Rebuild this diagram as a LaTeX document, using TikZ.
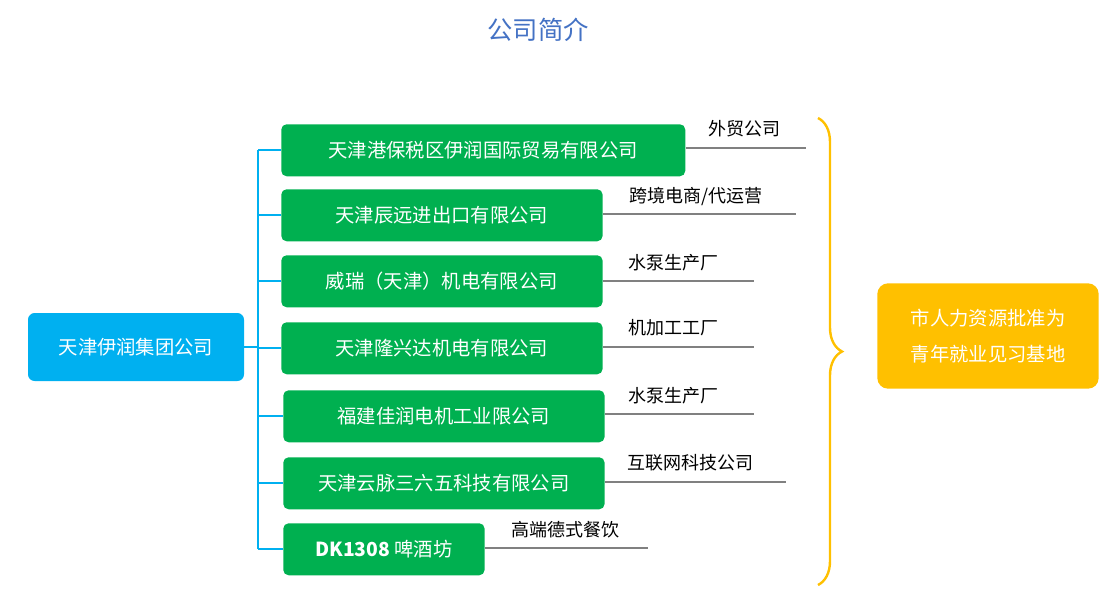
\documentclass[tikz,border=0pt]{standalone}
\usepackage{fontspec}
\setmainfont{Noto Sans CJK SC}
\usetikzlibrary{decorations.pathreplacing}
\definecolor{titleblue}{HTML}{4472C4}
\definecolor{cyanbox}{HTML}{00B0F0}
\definecolor{greenbox}{HTML}{00B050}
\definecolor{orangebox}{HTML}{FFC000}
\begin{document}
\begin{tikzpicture}[x=0.75pt,y=-0.75pt]
	\tikzstyle{firm}=[draw=none,fill=greenbox,rounded corners=4pt,text=white,font=\fontsize{14.5}{16}\selectfont,anchor=north west,inner sep=0pt];
	\tikzstyle{tag}=[font=\fontsize{13.5}{15}\selectfont,inner sep=0pt];
	\tikzstyle{link}=[cyanbox,line width=1.5pt];
	\tikzstyle{under}=[gray,line width=1.2pt];
	\useasboundingbox (0,0) rectangle (1111,608);

	\node[titleblue,font=\fontsize{19}{21}\selectfont] (title) at (538,30) {公司简介};
	\node[fill=cyanbox,rounded corners=5pt,text=white,minimum width=162pt,minimum height=51pt,inner sep=0pt,font=\fontsize{14.5}{16}\selectfont] (group) at (136,347) {天津伊润集团公司};

	% companies
	\node[firm,minimum width=303pt,minimum height=39pt] (c1) at (281,124) {天津港保税区伊润国际贸易有限公司};
	\node[firm,minimum width=241pt,minimum height=39pt] (c2) at (281,189) {天津辰远进出口有限公司};
	\node[firm,minimum width=241pt,minimum height=39pt] (c3) at (281,255) {威瑞（天津）机电有限公司};
	\node[firm,minimum width=241pt,minimum height=39pt] (c4) at (281,322) {天津隆兴达机电有限公司};
	\node[firm,minimum width=241pt,minimum height=39pt] (c5) at (283,390) {福建佳润电机工业限公司};
	\node[firm,minimum width=241pt,minimum height=39pt] (c6) at (283,457) {天津云脉三六五科技有限公司};
	\node[firm,minimum width=151pt,minimum height=39pt] (c7) at (283,523) {\textbf{DK1308} 啤酒坊};

	% tree
	\coordinate (trunk) at (258,347);
	\draw[link] (group.east) -- (trunk);
	\draw[link] (trunk |- c1.west) -- (trunk |- c7.west);
	\foreach \i in {1,...,7}
		\draw[link] (trunk |- c\i.west) -- (c\i.west);

	% business lines
	\coordinate (e1) at (806,148);
	\coordinate (e2) at (796,214);
	\coordinate (e3) at (754,281);
	\coordinate (e4) at (754,347);
	\coordinate (e5) at (754,414);
	\coordinate (e6) at (786,482);
	\coordinate (e7) at (648,548);
	\foreach \i in {1,...,7}
		\draw[under] (c\i.east |- e\i) -- (e\i);
	\node[tag] (t1) at (744,129) {外贸公司};
	\node[tag] (t2) at (696,196) {跨境电商/代运营};
	\node[tag] (t3) at (673,263) {水泵生产厂};
	\node[tag] (t4) at (673,328) {机加工工厂};
	\node[tag] (t5) at (673,396) {水泵生产厂};
	\node[tag] (t6) at (690,463) {互联网科技公司};
	\node[tag] (t7) at (565,530) {高端德式餐饮};

	% brace and base
	\node[fill=orangebox,rounded corners=8pt,text=white,minimum width=166pt,minimum height=79pt,align=center,inner sep=0pt,font=\fontsize{14.5}{27}\selectfont] (base) at (988,336) {市人力资源批准为\\青年就业见习基地};
	\draw[orangebox,line width=1.8pt,decorate,decoration={brace,amplitude=18pt}] (818,118) -- (818,585);
\end{tikzpicture}
\end{document}
